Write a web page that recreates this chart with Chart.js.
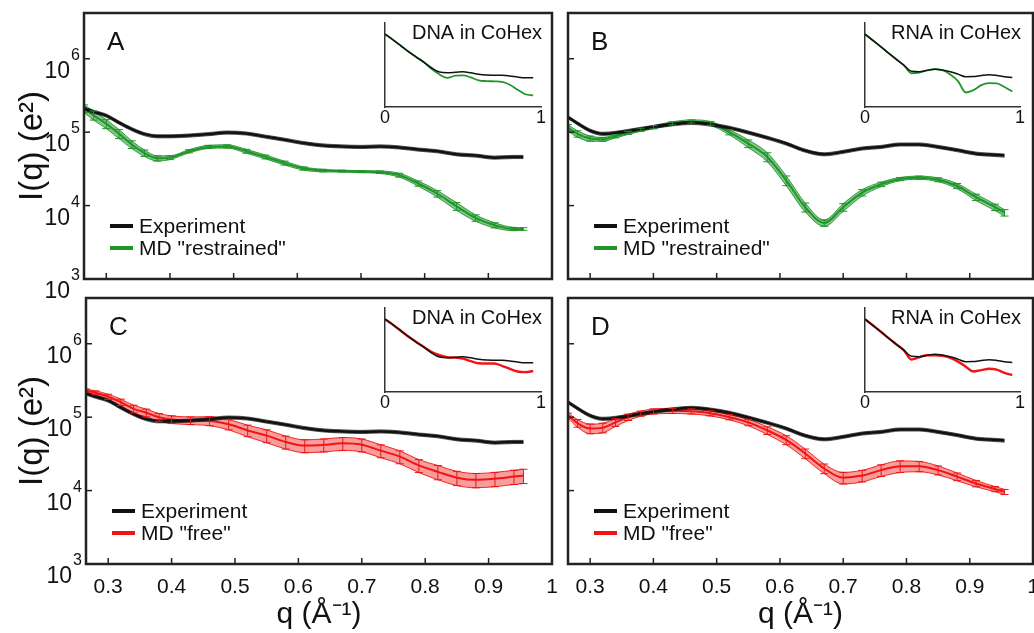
<!DOCTYPE html>
<html>
<head>
<meta charset="utf-8">
<script src="https://cdn.jsdelivr.net/npm/chart.js@4.4.0/dist/chart.umd.min.js"></script>
<style>
  body { margin: 0; background: #fff; width: 1034px; height: 633px; position: relative; overflow: hidden; }
  canvas { position: absolute; }
</style>
</head>
<body>
<canvas id="mainA" width="560" height="300" style="left:0px;top:0px"></canvas>
<canvas id="mainB" width="474" height="300" style="left:560px;top:0px"></canvas>
<canvas id="mainC" width="560" height="343" style="left:0px;top:290px"></canvas>
<canvas id="mainD" width="474" height="343" style="left:560px;top:290px"></canvas>
<canvas id="insA" width="180" height="120" style="left:370px;top:10px"></canvas>
<canvas id="insB" width="184" height="120" style="left:850px;top:10px"></canvas>
<canvas id="insC" width="180" height="120" style="left:370px;top:295px"></canvas>
<canvas id="insD" width="184" height="120" style="left:850px;top:295px"></canvas>
<script>
// q grid (1/Angstrom) for the main panels
const q = [0.265, 0.28, 0.30, 0.32, 0.34, 0.36, 0.38, 0.40, 0.43, 0.46, 0.49, 0.52, 0.55, 0.58,
           0.61, 0.64, 0.67, 0.70, 0.73, 0.76, 0.79, 0.82, 0.85, 0.88, 0.91, 0.94, 0.955];

// experiment curves
const expDNA = [2.1e5, 1.9e5, 1.68e5, 1.35e5, 1.1e5, 9.4e4, 8.8e4, 8.8e4, 9.0e4, 9.4e4, 9.9e4, 9.6e4, 8.7e4, 7.9e4,
                7.1e4, 6.6e4, 6.4e4, 6.3e4, 6.4e4, 6.2e4, 5.8e4, 5.5e4, 5.0e4, 4.8e4, 4.5e4, 4.6e4, 4.6e4];
const expRNA = [1.6e5, 1.32e5, 1.05e5, 9.5e4, 9.8e4, 1.04e5, 1.11e5, 1.18e5, 1.28e5, 1.34e5, 1.27e5, 1.15e5, 9.9e4, 8.4e4,
                7.0e4, 5.6e4, 5.0e4, 5.4e4, 6.0e4, 6.3e4, 6.8e4, 6.8e4, 6.3e4, 5.7e4, 5.1e4, 4.9e4, 4.8e4];
const expErr = 0.05;

// MD "restrained"
const mdA = [2.1e5, 1.7e5, 1.3e5, 9.5e4, 6.8e4, 5.2e4, 4.4e4, 4.5e4, 5.5e4, 6.3e4, 6.4e4, 5.5e4, 4.6e4, 3.8e4,
             3.2e4, 3.0e4, 2.95e4, 2.9e4, 2.85e4, 2.6e4, 2.0e4, 1.45e4, 9.8e3, 6.8e3, 5.4e3, 4.8e3, 4.8e3];
const errA = [0.12, 0.14, 0.14, 0.14, 0.12, 0.1, 0.08, 0.06, 0.05, 0.05, 0.05, 0.06, 0.06, 0.06,
              0.05, 0.04, 0.03, 0.03, 0.04, 0.06, 0.08, 0.1, 0.12, 0.1, 0.08, 0.05, 0.04];
const mdB = [1.15e5, 9.5e4, 8.2e4, 8.0e4, 8.8e4, 9.8e4, 1.08e5, 1.17e5, 1.32e5, 1.4e5, 1.32e5, 1.0e5, 7.0e4, 4.6e4,
             2.2e4, 9.5e3, 5.8e3, 9.5e3, 1.5e4, 1.95e4, 2.3e4, 2.4e4, 2.25e4, 1.85e4, 1.3e4, 9.5e3, 8.0e3];
const errB = [0.1, 0.1, 0.08, 0.06, 0.05, 0.05, 0.05, 0.05, 0.05, 0.05, 0.06, 0.08, 0.12, 0.14,
              0.15, 0.14, 0.1, 0.12, 0.1, 0.07, 0.05, 0.05, 0.06, 0.08, 0.1, 0.1, 0.1];

// MD "free"
const mdC = [2.3e5, 2.15e5, 1.9e5, 1.6e5, 1.3e5, 1.15e5, 1.0e5, 9.3e4, 9.0e4, 8.9e4, 8.0e4, 6.6e4, 5.6e4, 4.6e4,
             4.1e4, 4.2e4, 4.4e4, 4.2e4, 3.5e4, 2.9e4, 2.2e4, 1.8e4, 1.5e4, 1.4e4, 1.45e4, 1.55e4, 1.6e4];
const errC = [0.05, 0.06, 0.08, 0.1, 0.12, 0.12, 0.12, 0.12, 0.12, 0.14, 0.16, 0.18, 0.2, 0.2,
              0.2, 0.2, 0.2, 0.2, 0.2, 0.2, 0.2, 0.22, 0.22, 0.22, 0.22, 0.22, 0.22];
const mdD = [1.05e5, 8.3e4, 7.0e4, 7.2e4, 8.5e4, 1.0e5, 1.12e5, 1.2e5, 1.22e5, 1.2e5, 1.13e5, 1.0e5, 8.5e4, 6.6e4,
             4.9e4, 3.2e4, 2.0e4, 1.5e4, 1.6e4, 1.9e4, 2.15e4, 2.15e4, 1.9e4, 1.55e4, 1.25e4, 1.05e4, 9.6e3];
const errD = [0.08, 0.12, 0.15, 0.15, 0.12, 0.1, 0.08, 0.08, 0.08, 0.08, 0.08, 0.08, 0.1, 0.12,
              0.14, 0.15, 0.15, 0.18, 0.18, 0.18, 0.18, 0.16, 0.14, 0.12, 0.1, 0.08, 0.08];

// insets, full q range
const qIn = [0, 0.05, 0.1, 0.15, 0.2, 0.25, 0.3, 0.35, 0.4, 0.45, 0.5, 0.55, 0.6, 0.65, 0.7, 0.75, 0.8, 0.85, 0.9, 0.95];
const dnaExp   = [1.2e7, 6e6, 2.8e6, 1.3e6, 6.5e5, 3.3e5, 1.6e5, 9.5e4, 8.8e4, 9.2e4, 9.8e4, 8.6e4, 7.3e4, 6.6e4, 6.4e4, 6.3e4, 5.8e4, 5.0e4, 4.6e4, 4.6e4];
const dnaRestr = [1.2e7, 6e6, 2.8e6, 1.3e6, 6.5e5, 3.3e5, 1.4e5, 7e4, 4.5e4, 6e4, 6.3e4, 4.8e4, 3.3e4, 3.0e4, 2.9e4, 2.7e4, 1.9e4, 1.0e4, 5.6e3, 4.8e3];
const dnaFree  = [1.2e7, 6e6, 2.8e6, 1.3e6, 6.5e5, 3.4e5, 1.8e5, 1.2e5, 9.3e4, 8.9e4, 7.8e4, 5.6e4, 4.3e4, 4.2e4, 4.2e4, 3.1e4, 2.1e4, 1.5e4, 1.4e4, 1.6e4];
const rnaExp   = [1.2e7, 5.5e6, 2.5e6, 1.1e6, 5e5, 2.3e5, 1.05e5, 1.0e5, 1.18e5, 1.38e5, 1.23e5, 9.8e4, 7.3e4, 5.3e4, 5.4e4, 6.2e4, 6.8e4, 6.2e4, 5.2e4, 4.8e4];
const rnaRestr = [1.2e7, 5.5e6, 2.5e6, 1.1e6, 5e5, 2.3e5, 8.2e4, 9.0e4, 1.17e5, 1.4e5, 1.2e5, 7e4, 3e4, 7e3, 9.5e3, 1.8e4, 2.3e4, 2.25e4, 1.4e4, 8e3];
const rnaFree  = [1.2e7, 5.5e6, 2.5e6, 1.1e6, 5e5, 2.3e5, 7.0e4, 9.2e4, 1.2e5, 1.2e5, 1.1e5, 8.5e4, 5.3e4, 2.8e4, 1.5e4, 1.8e4, 2.15e4, 1.9e4, 1.25e4, 9.6e3];

const xTicks = [0.3, 0.4, 0.5, 0.6, 0.7, 0.8, 0.9, 1];
const yTicks = [1e3, 1e4, 1e5, 1e6];

const GREEN = '#1f952a';
const RED = '#f01414';
const BLACK = '#111111';
const FONT = "'Liberation Sans', Arial, sans-serif";
Chart.defaults.font.family = FONT;
Chart.defaults.color = '#111';

function pts(xs, ys) { return xs.map((x, i) => ({x: x, y: ys[i]})); }
function shift(ys, err, sign) {
  return ys.map((v, i) => v * (1 + sign * (Array.isArray(err) ? err[i] : err)));
}
function line(ctx, x1, y1, x2, y2) { ctx.beginPath(); ctx.moveTo(x1, y1); ctx.lineTo(x2, y2); ctx.stroke(); }

// error bar caps on the data points
const caps = {
  id: 'caps',
  afterDatasetsDraw(chart) {
    const {ctx, chartArea: a, scales: {x, y}} = chart;
    ctx.save();
    ctx.beginPath(); ctx.rect(a.left, a.top, a.right - a.left, a.bottom - a.top); ctx.clip();
    chart.data.datasets.forEach(ds => {
      if (!ds.err) return;
      ctx.strokeStyle = ds.borderColor; ctx.lineWidth = 1;
      ds.data.forEach((p, i) => {
        const e = Array.isArray(ds.err) ? ds.err[i] : ds.err;
        const px = x.getPixelForValue(p.x);
        const t = y.getPixelForValue(p.y * (1 + e)), b = y.getPixelForValue(p.y * (1 - e));
        line(ctx, px, t, px, b);
        line(ctx, px - 4, t, px + 4, t);
        line(ctx, px - 4, b, px + 4, b);
      });
    });
    ctx.restore();
  }
};

// box, inward ticks, 10^n labels, panel letter and legend
const frame = {
  id: 'frame',
  afterDraw(chart, args, o) {
    const {ctx, chartArea: a, scales: {x, y}} = chart;
    ctx.save();
    ctx.strokeStyle = '#222'; ctx.lineWidth = 1.5;
    x.ticks.forEach(t => {
      const px = x.getPixelForValue(t.value);
      if (px > a.left + 2 && px < a.right - 2) line(ctx, px, a.bottom, px, a.bottom - 6);
    });
    y.ticks.forEach(t => {
      const py = y.getPixelForValue(t.value);
      if (py > a.top + 2 && py < a.bottom - 2) line(ctx, a.left, py, a.left + 6, py);
    });
    ctx.lineWidth = 2.5;
    ctx.strokeRect(a.left, a.top, a.right - a.left, a.bottom - a.top);

    ctx.fillStyle = '#111';
    ctx.textBaseline = 'alphabetic';
    if (o.yLabels) {
      y.ticks.forEach(t => {
        const py = y.getPixelForValue(t.value);
        const ex = String(Math.round(Math.log10(t.value)));
        ctx.textAlign = 'right';
        ctx.font = '16px ' + FONT;
        const w = ctx.measureText(ex).width;
        ctx.fillText(ex, a.left - 4, py + 1);
        ctx.font = '23px ' + FONT;
        ctx.fillText('10', a.left - 5 - w, py + 19);
      });
    }
    ctx.textAlign = 'left';
    ctx.font = '26px ' + FONT;
    ctx.fillText(o.letter, a.left + 23, a.top + 37);

    ctx.font = '21px ' + FONT;
    ctx.textBaseline = 'middle';
    chart.data.datasets.filter(d => d.inLegend).forEach((d, i) => {
      const yy = a.bottom - 53 + i * 22;
      ctx.strokeStyle = d.borderColor; ctx.lineWidth = 4;
      line(ctx, a.left + 26, yy, a.left + 49, yy);
      ctx.fillText(d.label, a.left + 55, yy + 1);
    });
    ctx.restore();
  }
};

const insetTitle = {
  id: 'insetTitle',
  afterDraw(chart, args, o) {
    const {ctx, chartArea: a} = chart;
    ctx.save();
    ctx.font = '20px ' + FONT; ctx.fillStyle = '#111';
    ctx.textAlign = 'right'; ctx.textBaseline = 'middle';
    ctx.fillText(o.text, a.right + 1, a.top + 10);
    ctx.restore();
  }
};

function bandSets(ys, err, color, fillColor) {
  return [
    {data: pts(q, shift(ys, err, 1)), borderColor: color, borderWidth: 0.9, backgroundColor: fillColor, fill: '+1'},
    {data: pts(q, shift(ys, err, -1)), borderColor: color, borderWidth: 0.9, fill: false}
  ];
}

function mainChart(id, cfg) {
  const bottomRow = cfg.bottomRow;
  const h = bottomRow ? 343 : 300;
  const chartBottom = bottomRow ? 274 : 279;
  const datasets = [
    {label: 'Experiment', inLegend: true, data: pts(q, cfg.exp), borderColor: BLACK, borderWidth: 2.5, fill: false},
    ...bandSets(cfg.exp, expErr, 'rgba(17,17,17,0.7)', 'rgba(17,17,17,0.5)'),
    {label: cfg.mdLabel, inLegend: true, data: pts(q, cfg.md), err: cfg.err, borderColor: cfg.color, borderWidth: 2, fill: false},
    ...bandSets(cfg.md, cfg.err, cfg.color, cfg.fillColor)
  ];
  new Chart(document.getElementById(id), {
    type: 'line',
    data: {datasets: datasets},
    options: {
      responsive: false, animation: false,
      layout: {padding: {left: cfg.left ? 0 : 8, top: bottomRow ? 8 : 13, right: cfg.left ? 8 : 1, bottom: bottomRow ? 0 : h - chartBottom}},
      elements: {point: {radius: 0}, line: {cubicInterpolationMode: 'monotone'}},
      plugins: {legend: {display: false}, tooltip: {enabled: false}, frame: {letter: cfg.letter, yLabels: cfg.left}},
      scales: {
        x: {
          type: 'linear', min: 0.265, max: 1,
          grid: {display: false, drawTicks: false}, border: {display: false},
          afterBuildTicks: s => { s.ticks = xTicks.map(v => ({value: v})); },
          afterFit: s => { s.height = bottomRow ? h - chartBottom : 0; s.paddingLeft = 0; s.paddingRight = 0; },
          ticks: {display: bottomRow, autoSkip: false, maxRotation: 0, padding: 11, font: {size: 21},
                  callback: v => (v === 1 ? '1' : v.toFixed(1))},
          title: {display: bottomRow, text: 'q (Å⁻¹)', font: {size: 30}, padding: {top: 0, bottom: 0}}
        },
        y: {
          type: 'logarithmic', min: 1e3, max: 4.2e6,
          grid: {display: false, drawTicks: false}, border: {display: false},
          afterBuildTicks: s => { s.ticks = yTicks.map(v => ({value: v})); },
          afterFit: s => { s.width = cfg.left ? cfg.yWidth : 0; s.paddingTop = 0; s.paddingBottom = 0; },
          ticks: {display: false},
          title: {display: cfg.left, text: 'I(q) (e²)', font: {size: 33}, padding: {top: 13, bottom: 0}}
        }
      }
    },
    plugins: [frame, caps]
  });
}

function insetChart(id, cfg) {
  new Chart(document.getElementById(id), {
    type: 'line',
    data: {datasets: [
      {data: pts(qIn, cfg.exp), borderColor: BLACK, borderWidth: 1.5, fill: false},
      {data: pts(qIn, cfg.md), borderColor: cfg.color, borderWidth: cfg.mdWidth, fill: false}
    ]},
    options: {
      responsive: false, animation: false,
      layout: {padding: {left: 15, top: 13, right: cfg.right, bottom: 0}},
      elements: {point: {radius: 0}, line: {cubicInterpolationMode: 'monotone'}},
      plugins: {legend: {display: false}, tooltip: {enabled: false}, insetTitle: {text: cfg.title}},
      scales: {
        x: {
          type: 'linear', min: 0, max: 1,
          grid: {display: false, drawTicks: false}, border: {display: true, color: '#333', width: 1.5},
          afterBuildTicks: s => { s.ticks = [{value: 0}, {value: 1}]; },
          afterFit: s => { s.height = 23; s.paddingLeft = 0; s.paddingRight = 0; },
          ticks: {autoSkip: false, maxRotation: 0, padding: 0, font: {size: 18}}
        },
        y: {
          type: 'logarithmic', min: 1.1e3, max: 5e7,
          grid: {display: false, drawTicks: false}, border: {display: true, color: '#333', width: 1.5},
          afterFit: s => { s.width = 0; },
          ticks: {display: false}
        }
      }
    },
    plugins: [insetTitle]
  });
}

mainChart('mainA', {left: true, yWidth: 84, bottomRow: false, letter: 'A', exp: expDNA, md: mdA, err: errA,
  color: GREEN, fillColor: 'rgba(31,149,42,0.55)', mdLabel: 'MD "restrained"'});
mainChart('mainB', {left: false, bottomRow: false, letter: 'B', exp: expRNA, md: mdB, err: errB,
  color: GREEN, fillColor: 'rgba(31,149,42,0.55)', mdLabel: 'MD "restrained"'});
mainChart('mainC', {left: true, yWidth: 86, bottomRow: true, letter: 'C', exp: expDNA, md: mdC, err: errC,
  color: RED, fillColor: 'rgba(240,20,20,0.42)', mdLabel: 'MD "free"'});
mainChart('mainD', {left: false, bottomRow: true, letter: 'D', exp: expRNA, md: mdD, err: errD,
  color: RED, fillColor: 'rgba(240,20,20,0.42)', mdLabel: 'MD "free"'});

insetChart('insA', {title: 'DNA in CoHex', exp: dnaExp, md: dnaRestr, color: GREEN, mdWidth: 1.8, right: 9});
insetChart('insB', {title: 'RNA in CoHex', exp: rnaExp, md: rnaRestr, color: GREEN, mdWidth: 1.8, right: 14});
insetChart('insC', {title: 'DNA in CoHex', exp: dnaExp, md: dnaFree, color: RED, mdWidth: 2.4, right: 9});
insetChart('insD', {title: 'RNA in CoHex', exp: rnaExp, md: rnaFree, color: RED, mdWidth: 2.4, right: 14});
</script>
</body>
</html>
